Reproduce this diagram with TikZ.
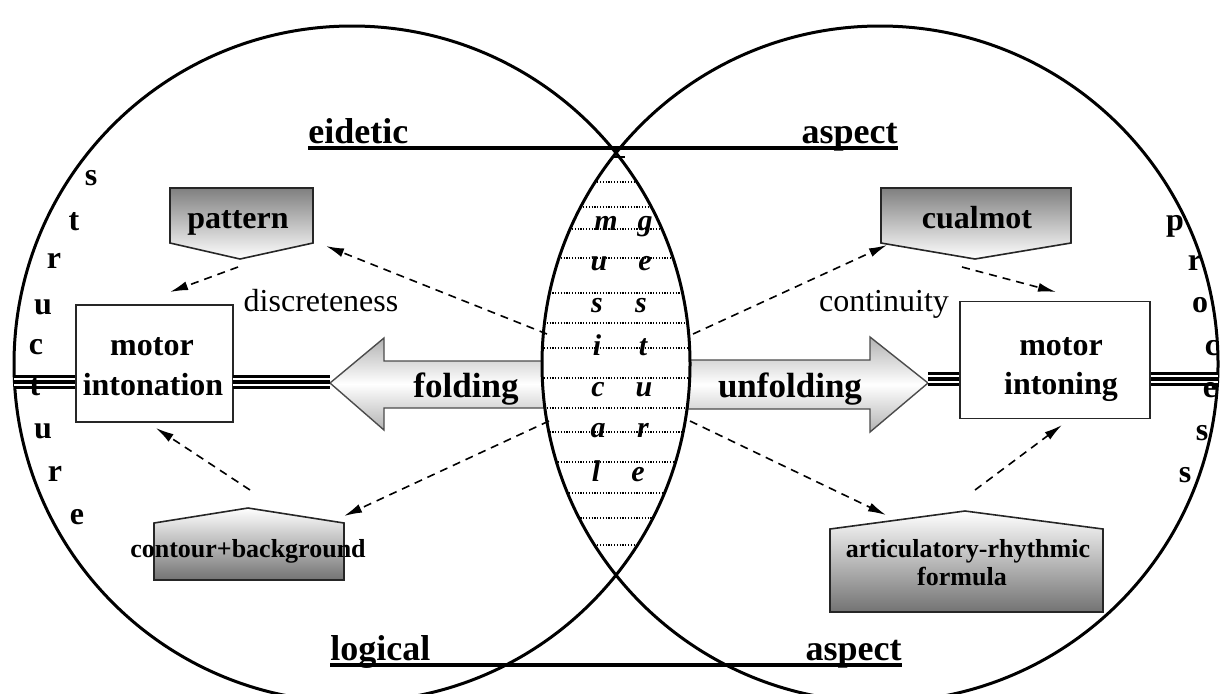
\documentclass[tikz,border=0pt]{standalone}
\usepackage{fontspec}
\setmainfont{Liberation Serif}
\usetikzlibrary{arrows.meta}
\begin{document}
\begin{tikzpicture}[x=0.5pt,y=-0.5pt,
  circ/.style={line width=1.5pt},
  hline/.style={line width=1.6pt},
  box/.style={draw=black!85, line width=0.8pt, fill=white, inner sep=0pt},
  boxtext/.style={font=\fontsize{16}{20}\selectfont\bfseries, inner sep=0pt, anchor=base},
  bigarrow/.style={draw=black!70, line width=0.7pt, top color=black!30, bottom color=black!30, middle color=white},
  pentdown/.style={draw=black!85, line width=0.8pt, top color=black!50, bottom color=white},
  pentup/.style={draw=black!85, line width=0.8pt, top color=white, bottom color=black!55},
  aspectlbl/.style={font=\fontsize{18}{20}\selectfont\bfseries, inner sep=0pt, anchor=base},
  pentlbl/.style={font=\fontsize{16}{20}\selectfont\bfseries, inner sep=0pt, anchor=base},
  smalllbl/.style={font=\fontsize{13}{15}\selectfont\bfseries, inner sep=0pt, anchor=base},
  arrlbl/.style={font=\fontsize{17.5}{20}\selectfont\bfseries, inner sep=0pt, anchor=base},
  reglbl/.style={font=\fontsize{16}{20}\selectfont, inner sep=0pt, anchor=base},
  vletter/.style={font=\fontsize{16}{20}\selectfont\bfseries, inner sep=0pt, anchor=base},
  lensletter/.style={font=\fontsize{15}{18}\selectfont\bfseries\itshape, inner sep=0pt, anchor=base},
  dashedarrow/.style={line width=0.8pt, dash pattern=on 4pt off 3pt, -{Latex[length=9pt,width=4.5pt]}},
  dotline/.style={line width=0.6pt, dash pattern=on 0.6pt off 0.8pt},
]
\useasboundingbox (0,0) rectangle (1224,693);

% big block arrows (drawn first, lens covers their inner ends)
\path[bigarrow] (562,361) -- (384,361) -- (384,338) -- (330,383) -- (384,430) -- (384,408) -- (562,408) -- cycle;
\path[bigarrow] (678,360) -- (870,360) -- (870,337) -- (928,383) -- (870,432) -- (870,409) -- (678,409) -- cycle;

% pentagons
\path[pentdown] (170,188) -- (313,188) -- (313,243) -- (240,259) -- (170,243) -- cycle;
\path[pentdown] (881,188) -- (1071,188) -- (1071,243) -- (975,259) -- (881,243) -- cycle;
\path[pentup] (154,580) -- (154,523) -- (248,508) -- (344,523) -- (344,580) -- cycle;
\path[pentup] (830,612) -- (830,529) -- (965,511) -- (1103,529) -- (1103,612) -- cycle;

% boxes
\node[box, minimum width=78.5pt, minimum height=58.5pt] (lbox) at (154.5,363.5) {};
\node[box, minimum width=95pt, minimum height=58.5pt] (rbox) at (1055,360) {};
\node[boxtext] (lbt1) at (152,355) {motor};
\node[boxtext] (lbt2) at (153,395) {intonation};
\node[boxtext] (rbt1) at (1061,355) {motor};
\node[boxtext] (rbt2) at (1061,394) {intoning};

% lens
\begin{scope}
  \clip (352,364) circle[radius=169pt];
  \fill[white] (880,364) circle[radius=169pt];
  \clip (880,364) circle[radius=169pt];
  \foreach \yy in {182,207,229,258,293,323,348,378,408,432,462,493,518,545}
    \draw[dotline] (530,\yy) -- (710,\yy);
\end{scope}

% circles
\draw[circ] (352,364) circle[radius=169pt];
\draw[circ] (880,364) circle[radius=169pt];
\draw[line width=0.8pt] (613,157) -- (625,157);

% aspect lines
\draw[hline] (308,148) -- (898,148);
\draw[hline] (330,665) -- (902,665);
\node[aspectlbl, anchor=base west] (eid) at (308,143) {eidetic};
\node[aspectlbl, anchor=base east] (asp1) at (898,143) {aspect};
\node[aspectlbl, anchor=base west] (log) at (330,660) {logical};
\node[aspectlbl, anchor=base east] (asp2) at (902,660) {aspect};

% triple lines
\coordinate (lcE) at (14,382);
\coordinate (lbE) at (233,382);
\coordinate (faT) at (330,382);
\coordinate (uaT) at (928,379);
\coordinate (rcE) at (1218,379);
\foreach \a/\b in {lcE/{lcE -| lbox.west}, lbE/faT, uaT/{uaT -| rbox.west}, {rcE -| rbox.east}/rcE} {
  \draw[line width=1.6pt, double=white, double distance=3.8pt] (\a) -- (\b);
  \draw[line width=2.3pt] (\a) -- (\b);
}

% labels
\node[pentlbl] (pat) at (238,228) {pattern};
\node[pentlbl] (cua) at (977,228) {cualmot};
\node[smalllbl] (cont) at (248,557) {contour+background};
\node[smalllbl] (art1) at (968,557) {articulatory-rhythmic};
\node[smalllbl] (art2) at (962,585) {formula};
\node[arrlbl] (fold) at (466,397) {folding};
\node[arrlbl] (unfold) at (790,397) {unfolding};
\node[reglbl] (disc) at (321,311) {discreteness};
\node[reglbl] (cont2) at (884,311) {continuity};

% structure / process letters
\foreach \ch/\xx/\yy [count=\i] in {s/91/185, t/74/230, r/54/268, u/43/314, c/36/354, t/35/395, u/43/438, r/55/481, e/77/524}
  \node[vletter] (st\i) at (\xx,\yy) {\ch};
\foreach \ch/\xx/\yy [count=\i] in {p/1175/230, r/1195/270, o/1200/312, c/1212/355, e/1210/397, s/1202/440, s/1185/482}
  \node[vletter] (pr\i) at (\xx,\yy) {\ch};

% lens letters
\foreach \ch/\xx/\yy [count=\i] in {m/606/230, u/599/270, s/597/312, i/597/355, c/598/396, a/598/437, l/596/481}
  \node[lensletter] (ml\i) at (\xx,\yy) {\ch};
\foreach \ch/\xx/\yy [count=\i] in {g/645/230, e/645/270, s/641/312, t/643/355, u/644/396, r/643/437, e/638/481}
  \node[lensletter] (gs\i) at (\xx,\yy) {\ch};

% dashed connectors
\coordinate (d1s) at (547,334);  \coordinate (d1e) at (326,246);
\coordinate (d2s) at (238,267);  \coordinate (d2e) at (170,292);
\coordinate (d3s) at (250,490);  \coordinate (d3e) at (156,428);
\coordinate (d4s) at (549,421);  \coordinate (d4e) at (344,516);
\coordinate (d5s) at (693,334);  \coordinate (d5e) at (887,245);
\coordinate (d6s) at (962,267);  \coordinate (d6e) at (1056,292);
\coordinate (d7s) at (690,421);  \coordinate (d7e) at (886,515);
\coordinate (d8s) at (975,490);  \coordinate (d8e) at (1062,425);
\foreach \k in {1,...,8}
  \draw[dashedarrow] (d\k s) -- (d\k e);
\end{tikzpicture}
\end{document}
